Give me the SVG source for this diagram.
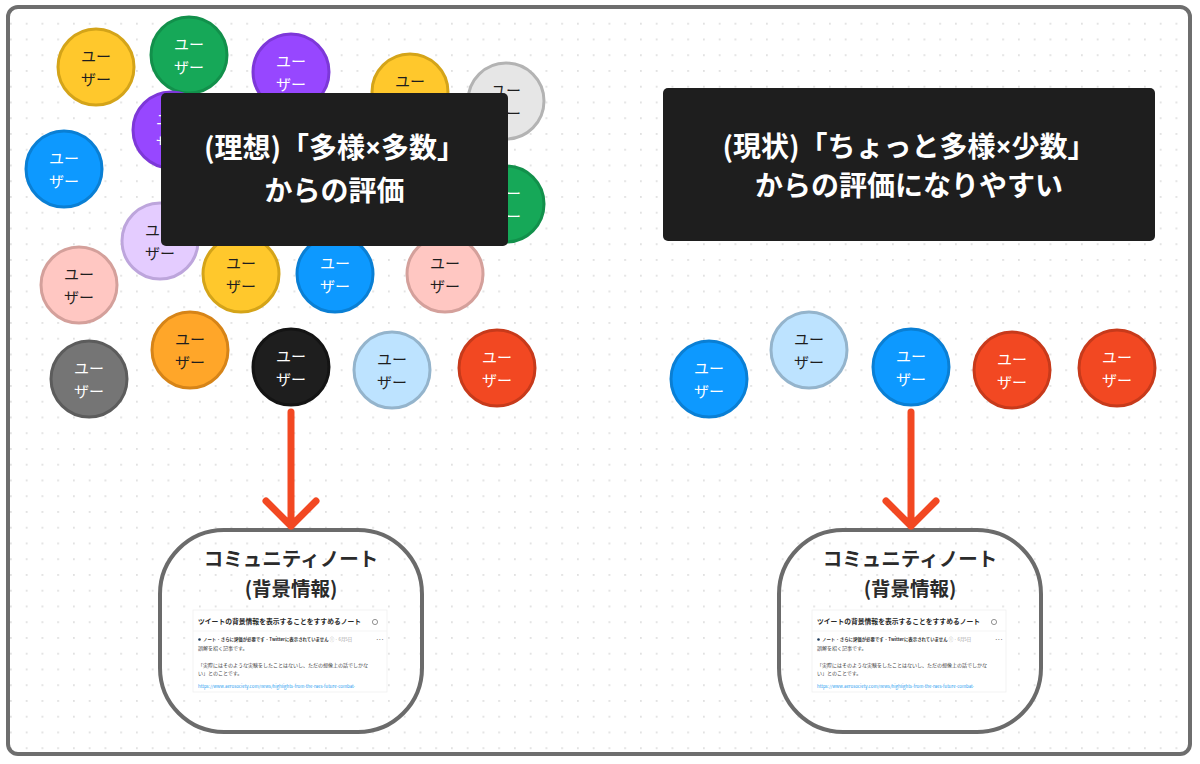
<svg xmlns="http://www.w3.org/2000/svg" width="1200" height="764" viewBox="0 0 1200 764">
<defs>
<pattern id="dots" x="10" y="7" width="15.75" height="15.75" patternUnits="userSpaceOnUse">
<circle cx="0.9" cy="0.9" r="0.9" fill="#d6d6d6"/>
</pattern>
<style>
text{font-family:"Noto Sans CJK JP","Noto Sans",sans-serif}
.x{font-family:"Noto Sans",sans-serif}
.u circle{stroke-width:3}
.u text{font-size:15px;text-anchor:middle}
.dk text{fill:#1e1e1e}
.lt text{fill:#ffffff}
.yel circle{fill:#ffc82c;stroke:#d4a419}
.grn circle{fill:#16a858;stroke:#12904b}
.pur circle{fill:#9747ff;stroke:#7d38d8}
.gry circle{fill:#e6e6e6;stroke:#b3b3b3}
.blu circle{fill:#0d99ff;stroke:#0a7fd4}
.lav circle{fill:#e4ccff;stroke:#bda5dc}
.pnk circle{fill:#ffc7c2;stroke:#d4a09b}
.dgy circle{fill:#757575;stroke:#5c5c5c}
.org circle{fill:#ffa629;stroke:#d68418}
.blk circle{fill:#1e1e1e;stroke:#141414}
.lbl circle{fill:#bde3ff;stroke:#94b4cc}
.red circle{fill:#f24822;stroke:#c73a1b}
.box rect{fill:#1e1e1e}
.box text{fill:#ffffff;font-size:28px;font-weight:700;text-anchor:middle}
.note .outline{fill:none;stroke:#6b6b6b;stroke-width:4}
.note .ttl{fill:#2b2b2b;font-size:19.5px;font-weight:700;text-anchor:middle}
.card{fill:#ffffff;stroke:#f0f0f0;stroke-width:0.8}
.ct{fill:#2a2a2a;font-size:6.8px;font-weight:700}
.ci{fill:#333;font-size:4.4px;font-weight:700}
.cb{fill:#444;font-size:5px}
.cu{fill:#1d9bf0;font-size:4.4px}
.arrow{fill:none;stroke:#f24822;stroke-width:7;stroke-linecap:round;stroke-linejoin:round}
</style>
</defs>
<rect x="0" y="0" width="1200" height="764" fill="#ffffff"/>
<rect x="8" y="7" width="1182" height="747" rx="10" fill="url(#dots)" stroke="#6e6e6e" stroke-width="4"/>

<g id="u1" class="u yel dk"><circle cx="96" cy="67" r="38"/><text x="96" y="62">ユー</text><text x="96" y="85">ザー</text></g>
<g id="u2" class="u grn lt"><circle cx="189" cy="55" r="38"/><text x="189" y="50">ユー</text><text x="189" y="73">ザー</text></g>
<g id="u3" class="u pur lt"><circle cx="291" cy="72" r="38"/><text x="291" y="67">ユー</text><text x="291" y="90">ザー</text></g>
<g id="u4" class="u yel dk"><circle cx="410" cy="92" r="38"/><text x="410" y="87">ユー</text><text x="410" y="110">ザー</text></g>
<g id="u5" class="u gry dk"><circle cx="506" cy="101" r="38"/><text x="506" y="96">ユー</text><text x="506" y="119">ザー</text></g>
<g id="u6" class="u pur lt"><circle cx="171" cy="130" r="38"/><text x="171" y="125">ユー</text><text x="171" y="148">ザー</text></g>
<g id="u7" class="u blu lt"><circle cx="64" cy="169" r="38"/><text x="64" y="164">ユー</text><text x="64" y="187">ザー</text></g>
<g id="u8" class="u grn lt"><circle cx="506" cy="204" r="38"/><text x="506" y="199">ユー</text><text x="506" y="222">ザー</text></g>
<g id="u9" class="u lav dk"><circle cx="160" cy="241" r="38"/><text x="160" y="236">ユー</text><text x="160" y="259">ザー</text></g>
<g id="u10" class="u pnk dk"><circle cx="79" cy="285" r="38"/><text x="79" y="280">ユー</text><text x="79" y="303">ザー</text></g>
<g id="u11" class="u yel dk"><circle cx="241" cy="274" r="38"/><text x="241" y="269">ユー</text><text x="241" y="292">ザー</text></g>
<g id="u12" class="u blu lt"><circle cx="335" cy="274" r="38"/><text x="335" y="269">ユー</text><text x="335" y="292">ザー</text></g>
<g id="u13" class="u pnk dk"><circle cx="445" cy="274" r="38"/><text x="445" y="269">ユー</text><text x="445" y="292">ザー</text></g>
<g id="u14" class="u dgy lt"><circle cx="89" cy="379" r="38"/><text x="89" y="374">ユー</text><text x="89" y="397">ザー</text></g>
<g id="u15" class="u org dk"><circle cx="190" cy="350" r="38"/><text x="190" y="345">ユー</text><text x="190" y="368">ザー</text></g>
<g id="u16" class="u blk lt"><circle cx="291" cy="367" r="38"/><text x="291" y="362">ユー</text><text x="291" y="385">ザー</text></g>
<g id="u17" class="u lbl dk"><circle cx="392" cy="370" r="38"/><text x="392" y="365">ユー</text><text x="392" y="388">ザー</text></g>
<g id="u18" class="u red lt"><circle cx="497" cy="368" r="38"/><text x="497" y="363">ユー</text><text x="497" y="386">ザー</text></g>

<g id="ideal" class="box"><rect x="161" y="93" width="347" height="153" rx="5"/><text x="334.5" y="158">(理想)「多様<tspan class="x">×</tspan>多数」</text><text x="334.5" y="201">からの評価</text></g>

<g id="r1" class="u blu lt"><circle cx="709" cy="379" r="38"/><text x="709" y="374">ユー</text><text x="709" y="397">ザー</text></g>
<g id="r2" class="u lbl dk"><circle cx="809" cy="350" r="38"/><text x="809" y="345">ユー</text><text x="809" y="368">ザー</text></g>
<g id="r3" class="u blu lt"><circle cx="911" cy="367" r="38"/><text x="911" y="362">ユー</text><text x="911" y="385">ザー</text></g>
<g id="r4" class="u red lt"><circle cx="1012" cy="370" r="38"/><text x="1012" y="365">ユー</text><text x="1012" y="388">ザー</text></g>
<g id="r5" class="u red lt"><circle cx="1117" cy="368" r="38"/><text x="1117" y="363">ユー</text><text x="1117" y="386">ザー</text></g>

<g id="current" class="box"><rect x="663" y="88" width="492" height="153" rx="5"/><text x="909" y="157">(現状)「ちょっと多様<tspan class="x">×</tspan>少数」</text><text x="909" y="196">からの評価になりやすい</text></g>

<g id="note-left" class="note">
<rect class="outline" x="160" y="530" width="262" height="202" rx="64"/>
<text class="ttl" x="291" y="566">コミュニティノート</text>
<text class="ttl" x="291" y="596">(背景情報)</text>
<rect class="card" x="193" y="610" width="194" height="82"/>
<text class="ct" x="198" y="624">ツイートの背景情報を表示することをすすめるノート</text>
<circle cx="375" cy="622" r="2.6" fill="none" stroke="#666" stroke-width="0.7"/>
<line x1="193" y1="631" x2="387" y2="631" stroke="#f0f0f0" stroke-width="0.7"/>
<circle cx="199.5" cy="639.5" r="1.3" fill="#1e3a5a"/>
<text class="ci" x="203" y="641">ノート · さらに評価が必要です · Twitterに表示されていません <tspan font-weight="400" fill="#999">ⓘ · 6月5日</tspan></text>
<text class="ci" x="376" y="641" fill="#999">···</text>
<text class="cb" x="198" y="650">誤解を招く記事です。</text>
<text class="cb" x="198" y="667">「実際にはそのような実験をしたことはないし、ただの想像上の話でしかな</text>
<text class="cb" x="198" y="675">い」とのことです。</text>
<text class="cu" x="198" y="688">https://www.aerosociety.com/news/highlights-from-the-raes-future-combat-</text>
</g>

<g id="note-right" class="note">
<rect class="outline" x="779" y="530" width="262" height="202" rx="64"/>
<text class="ttl" x="910" y="566">コミュニティノート</text>
<text class="ttl" x="910" y="596">(背景情報)</text>
<rect class="card" x="812" y="610" width="194" height="82"/>
<text class="ct" x="817" y="624">ツイートの背景情報を表示することをすすめるノート</text>
<circle cx="994" cy="622" r="2.6" fill="none" stroke="#666" stroke-width="0.7"/>
<line x1="812" y1="631" x2="1006" y2="631" stroke="#f0f0f0" stroke-width="0.7"/>
<circle cx="818.5" cy="639.5" r="1.3" fill="#1e3a5a"/>
<text class="ci" x="822" y="641">ノート · さらに評価が必要です · Twitterに表示されていません <tspan font-weight="400" fill="#999">ⓘ · 6月5日</tspan></text>
<text class="ci" x="995" y="641" fill="#999">···</text>
<text class="cb" x="817" y="650">誤解を招く記事です。</text>
<text class="cb" x="817" y="667">「実際にはそのような実験をしたことはないし、ただの想像上の話でしかな</text>
<text class="cb" x="817" y="675">い」とのことです。</text>
<text class="cu" x="817" y="688">https://www.aerosociety.com/news/highlights-from-the-raes-future-combat-</text>
</g>

<g id="connectors">
<path class="arrow" d="M291 412 V526 M266 501 L291 526 L316 501"/>
<path class="arrow" d="M911 412 V526 M886 501 L911 526 L936 501"/>
</g>
</svg>
